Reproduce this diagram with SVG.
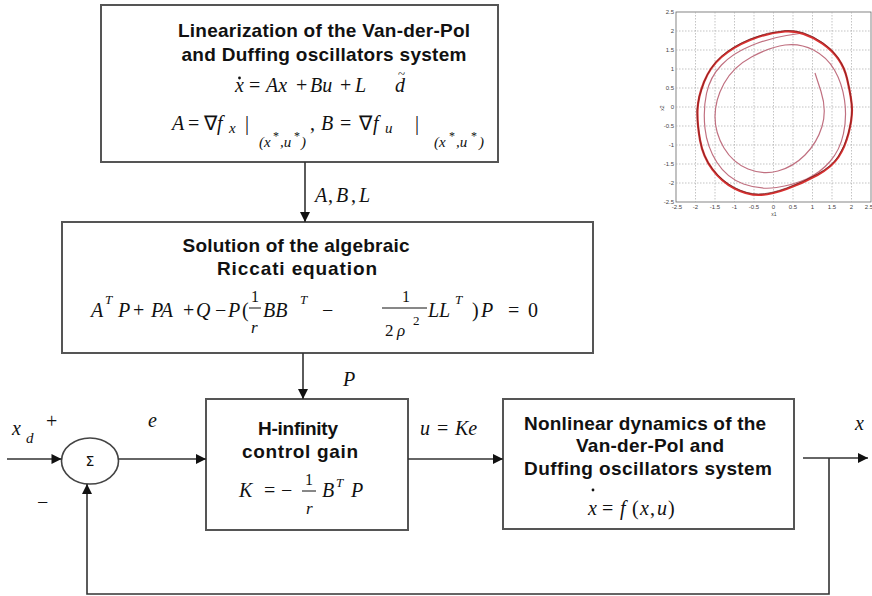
<svg xmlns="http://www.w3.org/2000/svg" width="872" height="596" viewBox="0 0 872 596">
<style>
.box{fill:#fff;stroke:#555;stroke-width:2}
.ttl{font-family:"Liberation Sans",Arial,sans-serif;font-weight:bold;font-size:19px;fill:#111;text-anchor:middle}
.m{font-family:"Liberation Serif","Times New Roman",serif;font-style:italic;font-size:20px;fill:#111}
.mu{font-family:"Liberation Serif","Times New Roman",serif;font-size:20px;fill:#111}
.sub{font-size:15px}
.sup{font-size:12px}
.conn{fill:none;stroke:#333;stroke-width:1.6}
.grid{stroke:#aaa;stroke-width:0.7;stroke-dasharray:1.5 1.5}
.tick{font-family:"Liberation Sans",Arial,sans-serif;font-size:6px;fill:#444}
</style>
<defs>
<marker id="ah" viewBox="0 0 10 10" refX="10" refY="5" markerWidth="11" markerHeight="10" markerUnits="userSpaceOnUse" orient="auto">
<path d="M0,0 L10,5 L0,10 z" fill="#111"/>
</marker>
</defs>
<rect width="872" height="596" fill="#fff"/>

<g id="linearization">
<rect class="box" x="101" y="5" width="397" height="157"/>
<text class="ttl" x="324" y="37" textLength="292" lengthAdjust="spacing">Linearization of the Van-der-Pol</text>
<text class="ttl" x="324" y="61" textLength="285" lengthAdjust="spacing">and Duffing oscillators system</text>
<circle cx="239.5" cy="78" r="1.4" fill="#111"/>
<text class="m" x="235" y="92">x</text>
<text class="mu" x="249" y="92">=</text>
<text class="m" x="266" y="92">Ax</text>
<text class="mu" x="296" y="92">+</text>
<text class="m" x="310" y="92">Bu</text>
<text class="mu" x="340" y="92">+</text>
<text class="m" x="355" y="92">L</text>
<text class="m" x="395" y="92">d</text>
<text class="mu" x="398" y="78" style="font-size:13px">~</text>
<text class="m" x="172" y="130">A</text>
<text class="mu" x="188" y="130">=</text>
<text class="mu" x="204" y="130">∇</text>
<text class="m" x="217" y="130">f</text>
<text class="m sub" x="229" y="133">x</text>
<text class="mu" x="245" y="130">|</text>
<text class="m sub" x="259" y="147">(x</text>
<text class="mu sup" x="273" y="140">*</text>
<text class="m sub" x="280" y="147">,u</text>
<text class="mu sup" x="294" y="140">*</text>
<text class="m sub" x="301" y="147">)</text>
<text class="mu" x="310" y="130">,</text>
<text class="m" x="321" y="130">B</text>
<text class="mu" x="340" y="130">=</text>
<text class="mu" x="359" y="130">∇</text>
<text class="m" x="373" y="130">f</text>
<text class="m sub" x="385" y="133">u</text>
<text class="mu" x="415" y="130">|</text>
<text class="m sub" x="434" y="147">(x</text>
<text class="mu sup" x="449" y="140">*</text>
<text class="m sub" x="456" y="147">,u</text>
<text class="mu sup" x="471" y="140">*</text>
<text class="m sub" x="479" y="147">)</text>
</g>

<g id="riccati">
<rect class="box" x="62" y="222" width="531" height="131"/>
<text class="ttl" x="296" y="252" textLength="227" lengthAdjust="spacing">Solution of the algebraic</text>
<text class="ttl" x="297" y="275" textLength="160" lengthAdjust="spacing">Riccati  equation</text>
<text class="m" x="91" y="317">A</text>
<text class="m sup" x="105" y="304" style="font-size:13px">T</text>
<text class="m" x="118" y="317">P</text>
<text class="mu" x="133" y="317">+</text>
<text class="m" x="151" y="317">PA</text>
<text class="mu" x="183" y="317">+</text>
<text class="m" x="196" y="317">Q</text>
<text class="mu" x="215" y="317">−</text>
<text class="m" x="228" y="317">P</text>
<text class="mu" x="242" y="317">(</text>
<text class="mu" x="251" y="302" style="font-size:16px">1</text>
<line x1="249" y1="308" x2="261" y2="308" stroke="#111" stroke-width="1"/>
<text class="m" x="251" y="333" style="font-size:17px">r</text>
<text class="m" x="263" y="317">BB</text>
<text class="m sup" x="300" y="304" style="font-size:13px">T</text>
<text class="mu" x="322" y="317">−</text>
<text class="mu" x="402" y="302" style="font-size:16px">1</text>
<line x1="382" y1="308" x2="427" y2="308" stroke="#111" stroke-width="1"/>
<text class="mu" x="385" y="336" style="font-size:17px">2</text>
<text class="m" x="397" y="336" style="font-size:17px">ρ</text>
<text class="mu sup" x="413" y="325" style="font-size:13px">2</text>
<text class="m" x="428" y="317">LL</text>
<text class="m sup" x="455" y="304" style="font-size:13px">T</text>
<text class="mu" x="472" y="317">)</text>
<text class="m" x="481" y="317">P</text>
<text class="mu" x="508" y="317">=</text>
<text class="mu" x="528" y="317">0</text>
</g>

<g id="sum">
<ellipse cx="90" cy="461" rx="28.5" ry="23" fill="#fff" stroke="#444" stroke-width="1.6"/>
<text x="90" y="466" text-anchor="middle" style="font-family:'DejaVu Sans',sans-serif;font-size:14px;fill:#111">Σ</text>
</g>

<g id="hinf">
<rect class="box" x="206" y="399" width="202" height="131"/>
<text class="ttl" x="298" y="435" textLength="80" lengthAdjust="spacing">H-infinity</text>
<text class="ttl" x="300" y="458" textLength="116" lengthAdjust="spacing">control  gain</text>
<text class="m" x="239" y="497">K</text>
<text class="mu" x="264" y="497">=</text>
<text class="mu" x="281" y="497">−</text>
<text class="mu" x="305" y="485" style="font-size:16px">1</text>
<line x1="302" y1="491" x2="316" y2="491" stroke="#111" stroke-width="1"/>
<text class="m" x="306" y="514" style="font-size:17px">r</text>
<text class="m" x="322" y="497">B</text>
<text class="m sup" x="336" y="487" style="font-size:13px">T</text>
<text class="m" x="351" y="497">P</text>
</g>

<g id="nonlinear">
<rect class="box" x="503" y="399" width="291" height="130"/>
<text class="ttl" x="645" y="430" textLength="242" lengthAdjust="spacing">Nonlinear dynamics of the</text>
<text class="ttl" x="650" y="452" textLength="148" lengthAdjust="spacing">Van-der-Pol and</text>
<text class="ttl" x="648" y="475" textLength="248" lengthAdjust="spacing">Duffing oscillators system</text>
<circle cx="593" cy="490" r="1.4" fill="#111"/>
<text class="m" x="588" y="515">x</text>
<text class="mu" x="602" y="515">=</text>
<text class="m" x="620" y="515">f</text>
<text class="mu" x="632" y="515">(</text>
<text class="m" x="640" y="515">x</text>
<text class="mu" x="650" y="515">,</text>
<text class="m" x="657" y="515">u</text>
<text class="mu" x="668" y="515">)</text>
</g>

<g id="connectors">
<path class="conn" d="M305,162 V222" marker-end="url(#ah)"/>
<path class="conn" d="M303,353 V399" marker-end="url(#ah)"/>
<path class="conn" d="M7,459 H61.5" marker-end="url(#ah)"/>
<path class="conn" d="M118.5,459 H206" marker-end="url(#ah)"/>
<path class="conn" d="M408,459 H503" marker-end="url(#ah)"/>
<path class="conn" d="M803,458 H868" marker-end="url(#ah)"/>
<path class="conn" d="M829,458 V594 H87 V484" marker-end="url(#ah)"/>
</g>

<g id="labels">
<text class="m" x="315" y="202">A</text>
<text class="mu" x="328" y="202">,</text>
<text class="m" x="336" y="202">B</text>
<text class="mu" x="351" y="202">,</text>
<text class="m" x="359" y="202">L</text>
<text class="m" x="343" y="386">P</text>
<text class="m" x="420" y="435">u</text>
<text class="mu" x="437" y="435">=</text>
<text class="m" x="455" y="435">Ke</text>
<text class="m" x="855" y="430">x</text>
<text class="m" x="148" y="427">e</text>
<text class="m" x="12" y="435">x</text>
<text class="m sub" x="26" y="443">d</text>
<text class="mu" x="46" y="428">+</text>
<text class="mu" x="37" y="509">−</text>
</g>

<g id="plot">
<rect x="676" y="12" width="195" height="190" fill="#fff" stroke="#666" stroke-width="0.8"/>
<path class="grid" d="M695.5,12V202M715,12V202M734.5,12V202M754,12V202M773.5,12V202M793,12V202M812.5,12V202M832,12V202M851.5,12V202M676,31H871M676,50H871M676,69H871M676,88H871M676,107H871M676,126H871M676,145H871M676,164H871M676,183H871"/>
<g class="tick" text-anchor="end">
<text x="674" y="14">2.5</text><text x="674" y="33">2</text><text x="674" y="52">1.5</text><text x="674" y="71">1</text><text x="674" y="90">0.5</text><text x="674" y="109">0</text><text x="674" y="128">-0.5</text><text x="674" y="147">-1</text><text x="674" y="166">-1.5</text><text x="674" y="185">-2</text><text x="674" y="204">-2.5</text>
</g>
<g class="tick" text-anchor="middle">
<text x="677" y="209">-2.5</text><text x="695.5" y="209">-2</text><text x="715" y="209">-1.5</text><text x="734.5" y="209">-1</text><text x="754" y="209">-0.5</text><text x="773.5" y="209">0</text><text x="793" y="209">0.5</text><text x="812.5" y="209">1</text><text x="832" y="209">1.5</text><text x="851.5" y="209">2</text><text x="869" y="209">2.5</text>
<text x="774" y="216" style="font-size:5px">x1</text>
<text x="664" y="108" style="font-size:5px" transform="rotate(-90 664 108)">x2</text>
</g>
<path d="M815,73 L821,91.5 Q827,110 822,126.5 Q817,143 805,155 Q793,167 778,171 Q763,175 748,169 Q733,163 724,148 Q715,133 715,116.5 Q715,100 724,83.5 Q733,67 751.5,57 Q770,47 785,45 Q800,43 813.5,50 Q827,57 834.5,70 Q842,83 844.5,100 Q847,117 843.5,133.5 Q840,150 830,161.5 Q820,173 806.5,179 Q793,185 776.5,187.5 Q760,190 743.5,184 Q727,178 717,162.5 Q707,147 705,128.5 Q703,110 706.5,93.5 Q710,77 721.5,65 Q733,53 751.5,45.5 Q770,38 786.5,35.5 L803,33" fill="none" stroke="#c07080" stroke-width="1.2"/>
<path d="M785,31.5 Q803,30 822.5,43.5 Q842,57 847,78.5 Q852,100 852,110 Q852,120 848.5,133.5 Q845,147 838.5,157 Q832,167 817.5,175 Q803,183 786.5,189 Q770,195 758.5,195 Q747,195 734.5,188.5 Q722,182 712.5,169.5 Q703,157 700,140 Q697,123 697.5,110 Q698,97 704,82 Q710,67 721.5,57 Q733,47 750,40 Q767,33 785,31.5 Z" fill="none" stroke="#d83030" stroke-width="2.2"/>
<path d="M785,30.5 Q803,29 822.5,42.5 Q842,56 847,78 Q852,100 852,110 Q852,120 848.5,133 Q845,146 838.5,156 Q832,166 817.5,174 Q803,182 786.5,188 Q770,194 758.5,194 Q747,194 734.5,187.5 Q722,181 712.5,169 Q703,157 700,140 Q697,123 697,110 Q698,97 704,82 Q710,67 721,56.5 Q733,46 750,39 Q767,32 785,30.5 Z" fill="none" stroke="#6a2020" stroke-width="0.7"/>
</g>
</svg>
